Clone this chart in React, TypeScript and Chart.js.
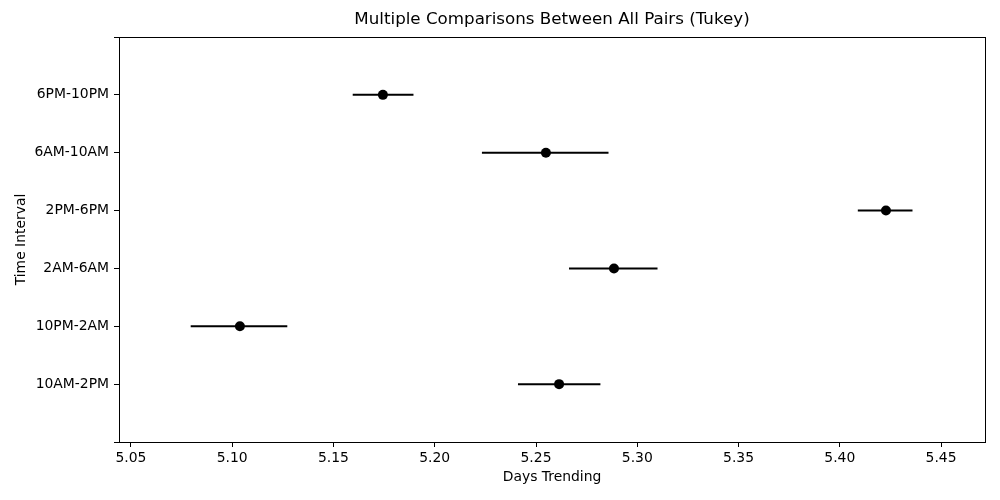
import React, { useEffect, useRef } from 'react';
import { Chart, registerables } from 'chart.js';

Chart.register(...registerables);

const categories = ['10AM-2PM', '10PM-2AM', '2AM-6AM', '2PM-6PM', '6AM-10AM', '6PM-10PM'];
const means = [5.2614, 5.1038, 5.2885, 5.4228, 5.2549, 5.1744];
const lower = [5.2411, 5.0795, 5.2663, 5.4089, 5.2233, 5.1595];
const upper = [5.2818, 5.1272, 5.31, 5.4359, 5.2858, 5.1895];
const xTicks = [5.05, 5.1, 5.15, 5.2, 5.25, 5.3, 5.35, 5.4, 5.45];
const yTicks = [-1, 0, 1, 2, 3, 4, 5, 6];
const xMin = 5.0441;
const xMax = 5.4717;
const yMin = -1;
const yMax = 6;
const titleText = 'Multiple Comparisons Between All Pairs (Tukey)';
const xTitle = 'Days Trending';
const yTitle = 'Time Interval';

const FONT = "'DejaVu Sans', sans-serif";

const framePlugin = {
  id: 'frameAndTitle',
  afterDraw(chart: any) {
    const { ctx, chartArea } = chart;
    ctx.save();
    ctx.strokeStyle = '#000';
    ctx.lineWidth = 1;
    ctx.strokeRect(
      Math.round(chartArea.left) + 0.5,
      Math.round(chartArea.top) + 0.5,
      Math.round(chartArea.right - chartArea.left),
      Math.round(chartArea.bottom - chartArea.top)
    );
    ctx.fillStyle = '#000';
    ctx.font = `16.7px ${FONT}`;
    ctx.textAlign = 'center';
    ctx.textBaseline = 'middle';
    ctx.fillText(titleText, (chartArea.left + chartArea.right) / 2, 20);
    ctx.restore();
  },
};

export default function App() {
  const ref = useRef<HTMLCanvasElement>(null);

  useEffect(() => {
    if (!ref.current) return;
    Chart.defaults.color = '#000';
    Chart.defaults.font.family = FONT;

    const barSets = categories.map((c, i) => ({
      type: 'line' as const,
      label: c,
      data: [
        { x: lower[i], y: i },
        { x: upper[i], y: i },
      ],
      showLine: true,
      borderColor: '#000',
      borderWidth: 2,
      pointRadius: 0,
      order: 1,
    }));

    const chart = new Chart(ref.current, {
      type: 'scatter',
      data: {
        datasets: [
          {
            label: 'means',
            data: means.map((m, i) => ({ x: m, y: i })),
            backgroundColor: '#000',
            borderColor: '#000',
            borderWidth: 0,
            pointRadius: 5,
            order: 0,
          } as any,
          ...barSets,
        ],
      },
      options: {
        animation: false,
        responsive: true,
        maintainAspectRatio: false,
        layout: { padding: { top: 37, right: 15, left: 0, bottom: 0 } },
        plugins: { legend: { display: false }, tooltip: { enabled: false }, title: { display: false } },
        scales: {
          x: {
            type: 'linear',
            min: xMin,
            max: xMax,
            afterBuildTicks: (s: any) => {
              s.ticks = xTicks.map((v) => ({ value: v }));
            },
            afterFit: (s: any) => {
              s.height = 58;
            },
            ticks: {
              font: { size: 13.9 },
              padding: 3,
              maxRotation: 0,
              callback: (v: any) => Number(v).toFixed(2),
            },
            grid: { drawOnChartArea: false, drawTicks: true, tickLength: 5, color: '#000' },
            border: { display: true, color: '#000', width: 1 },
            title: { display: true, text: xTitle, font: { size: 13.9 }, padding: { top: 0, bottom: 14.7 } },
          },
          y: {
            type: 'linear',
            min: yMin,
            max: yMax,
            afterBuildTicks: (s: any) => {
              s.ticks = yTicks.map((v) => ({ value: v }));
            },
            afterFit: (s: any) => {
              s.width = 119;
            },
            ticks: {
              font: { size: 13.9 },
              padding: 5,
              callback: (v: any) => categories[Number(v)] ?? '',
            },
            grid: { drawOnChartArea: false, drawTicks: true, tickLength: 5, color: '#000' },
            border: { display: true, color: '#000', width: 1 },
            title: { display: true, text: yTitle, font: { size: 13.9 }, padding: { top: 12.7, bottom: 0 } },
          },
        },
      } as any,
      plugins: [framePlugin],
    });
    return () => chart.destroy();
  }, []);

  return (
    <div style={{ position: 'fixed', left: 0, top: 0, width: 1000, height: 500, background: '#fff' }}>
      <canvas ref={ref} />
    </div>
  );
}
